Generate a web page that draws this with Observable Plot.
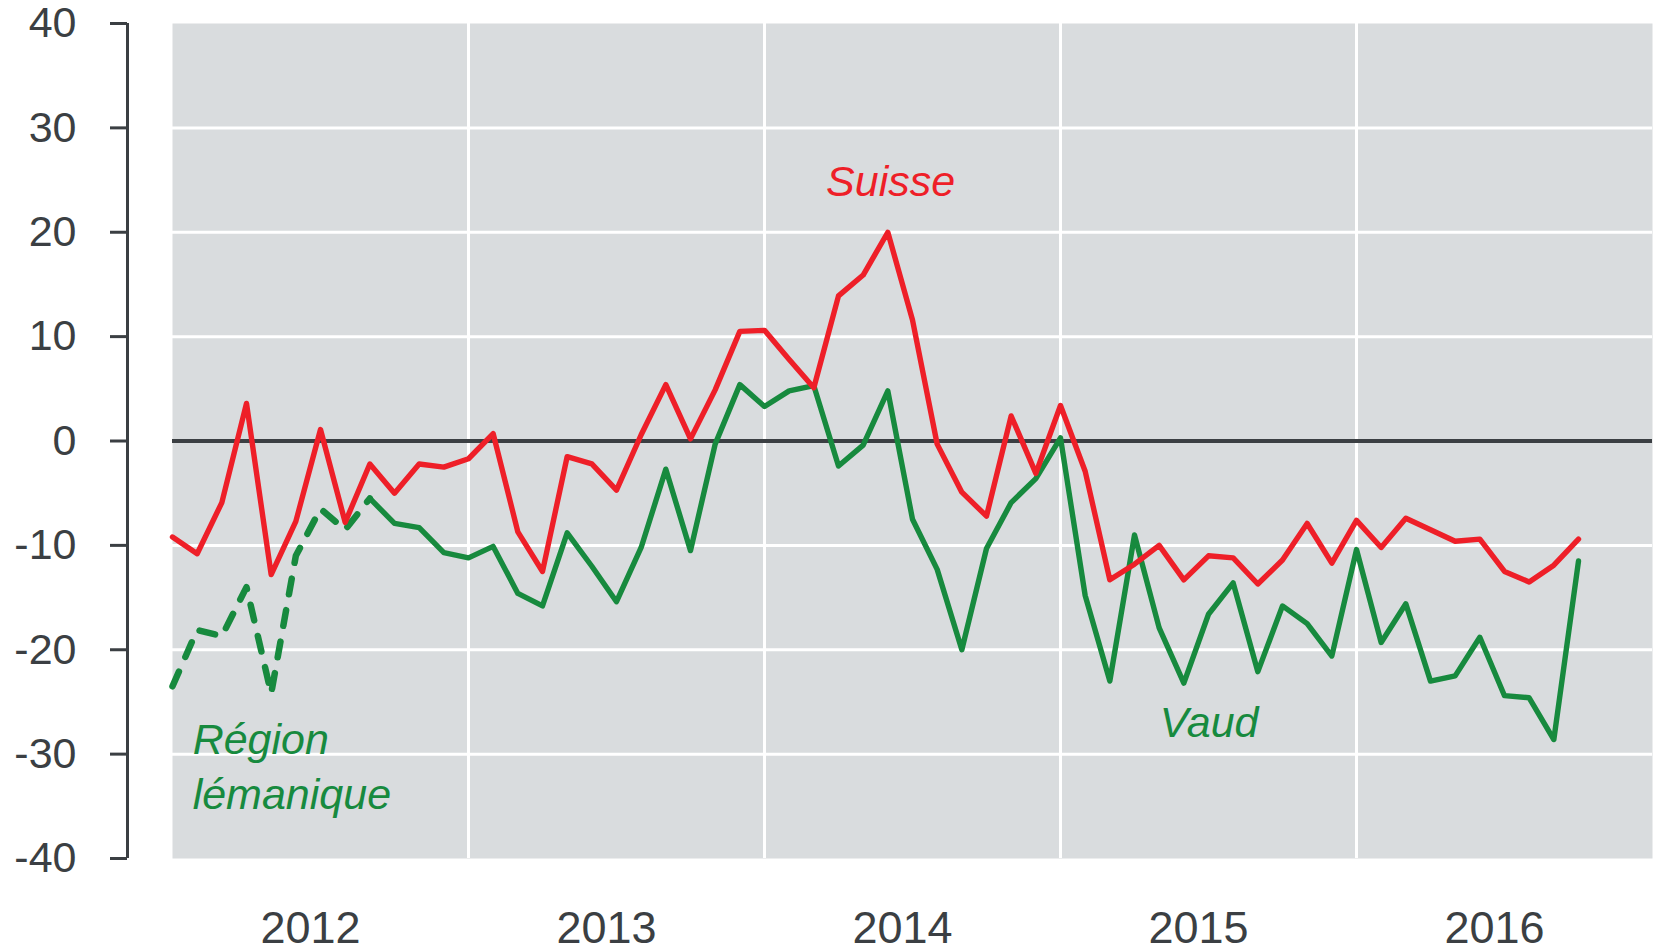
<!DOCTYPE html>
<html>
<head>
<meta charset="utf-8">
<script src="https://cdn.jsdelivr.net/npm/d3@7"></script>
<script src="https://cdn.jsdelivr.net/npm/@observablehq/plot@0.6"></script>
<style>
  html, body { margin: 0; padding: 0; background: #fff; }
  svg { display: block; overflow: visible; }
</style>
</head>
<body>
<div id="chart"></div>
<script>
// ---- data (monthly, Jan 2012 – Oct 2016) ----
const startYear = 2012;
const years = [2012, 2013, 2014, 2015, 2016];
const yTicks = [-40, -30, -20, -10, 0, 10, 20, 30, 40];

const suisse = [
  -9.2, -10.8, -5.9, 3.6, -12.8, -7.7, 1.1, -7.8, -2.2, -5.0, -2.2, -2.5,
  -1.7, 0.7, -8.7, -12.5, -1.5, -2.2, -4.7, 0.6, 5.4, 0.2, 4.9, 10.5,
  10.6, 7.8, 5.1, 13.9, 15.9, 20.0, 11.6, -0.3, -4.9, -7.2, 2.4, -3.1,
  3.4, -2.9, -13.3, -11.8, -10.0, -13.3, -11.0, -11.2, -13.7, -11.4, -7.9, -11.7,
  -7.6, -10.2, -7.4, -8.5, -9.6, -9.4, -12.5, -13.5, -11.9, -9.4
];
// Région lémanique: Jan 2012 – Sep 2012 (month index 0..8)
const lemanique = [-23.5, -18.1, -18.7, -14.0, -24.2, -11.0, -6.5, -8.5, -5.5];
// Vaud: Sep 2012 – Oct 2016 (month index 8..57)
const vaudStart = 8;
const vaud = [
  -5.5, -7.9, -8.3, -10.7,
  -11.2, -10.1, -14.6, -15.8, -8.8, -12.0, -15.4, -10.2, -2.7, -10.5, -0.3, 5.4,
  3.3, 4.8, 5.3, -2.4, -0.4, 4.8, -7.5, -12.3, -20.0, -10.3, -5.9, -3.6,
  0.3, -14.8, -23.0, -9.0, -17.9, -23.2, -16.6, -13.6, -22.1, -15.8, -17.5, -20.6,
  -10.4, -19.3, -15.6, -23.0, -22.5, -18.8, -24.4, -24.6, -28.6, -11.5
];

const redLabels = [{text: "Suisse", x: 2014.426, y: 23.5}];
const greenLabels = [
  {text: "Région\nlémanique", x: 2012.068, y: -35.3},
  {text: "Vaud", x: 2015.335, y: -28.4}
];

// ---- build tables ----
const toT = (i) => startYear + i / 12;
const suisseData = suisse.map((v, i) => ({t: toT(i), v}));
const lemData = lemanique.map((v, i) => ({t: toT(i), v}));
const vaudData = vaud.map((v, i) => ({t: toT(i + vaudStart), v}));

const RED = "#ee1f28";
const GREEN = "#178a3e";
const DARK = "#3b3f43";
const BG = "#d9dcde";
const FONT = "'Liberation Sans', Arial, Helvetica, sans-serif";

const chart = Plot.plot({
  width: 1655,
  height: 951,
  marginLeft: 172,
  marginRight: 3,
  marginTop: 23,
  marginBottom: 93,
  x: {domain: [2012, 2017], axis: null},
  y: {domain: [-40, 40], axis: null},
  style: {background: "#fff", fontFamily: FONT, overflow: "visible"},
  marks: [
    Plot.frame({fill: BG, stroke: null}),
    Plot.ruleY(yTicks.filter(d => d !== 0 && Math.abs(d) < 40), {stroke: "#fff", strokeWidth: 3}),
    Plot.ruleX(years.slice(1), {stroke: "#fff", strokeWidth: 3}),
    Plot.ruleY([0], {stroke: DARK, strokeWidth: 4}),
    Plot.line(lemData, {x: "t", y: "v", stroke: GREEN, strokeWidth: 6.5, strokeDasharray: "16,16", strokeLinecap: "round", strokeLinejoin: "round"}),
    Plot.line(vaudData, {x: "t", y: "v", stroke: GREEN, strokeWidth: 5.4, strokeLinejoin: "round"}),
    Plot.line(suisseData, {x: "t", y: "v", stroke: RED, strokeWidth: 5.4, strokeLinejoin: "round"}),
    // y axis (offset to the left of the plot area)
    Plot.ruleX([2012], {y1: -40, y2: 40, dx: -45, stroke: DARK, strokeWidth: 3}),
    Plot.axisY({ticks: yTicks, tickSize: 17, tickPadding: 34, dx: -45, fontSize: 43, color: DARK, strokeWidth: 3, tickFormat: d => String(d)}),
    // year labels
    Plot.text(years, {x: d => d + 0.5, y: -40, dy: 84, dx: -10, text: d => String(d), fontSize: 45, fill: DARK, lineAnchor: "bottom"}),
    // series labels
    Plot.text(redLabels, {x: "x", y: "y", text: "text", textAnchor: "middle", fill: RED, fontSize: 43, fontStyle: "italic", lineAnchor: "bottom"}),
    Plot.text(greenLabels, {x: "x", y: "y", text: "text", textAnchor: "start", fill: GREEN, fontSize: 43, fontStyle: "italic", lineAnchor: "bottom", lineHeight: 1.28})
  ]
});
document.getElementById("chart").appendChild(chart);
</script>
</body>
</html>
